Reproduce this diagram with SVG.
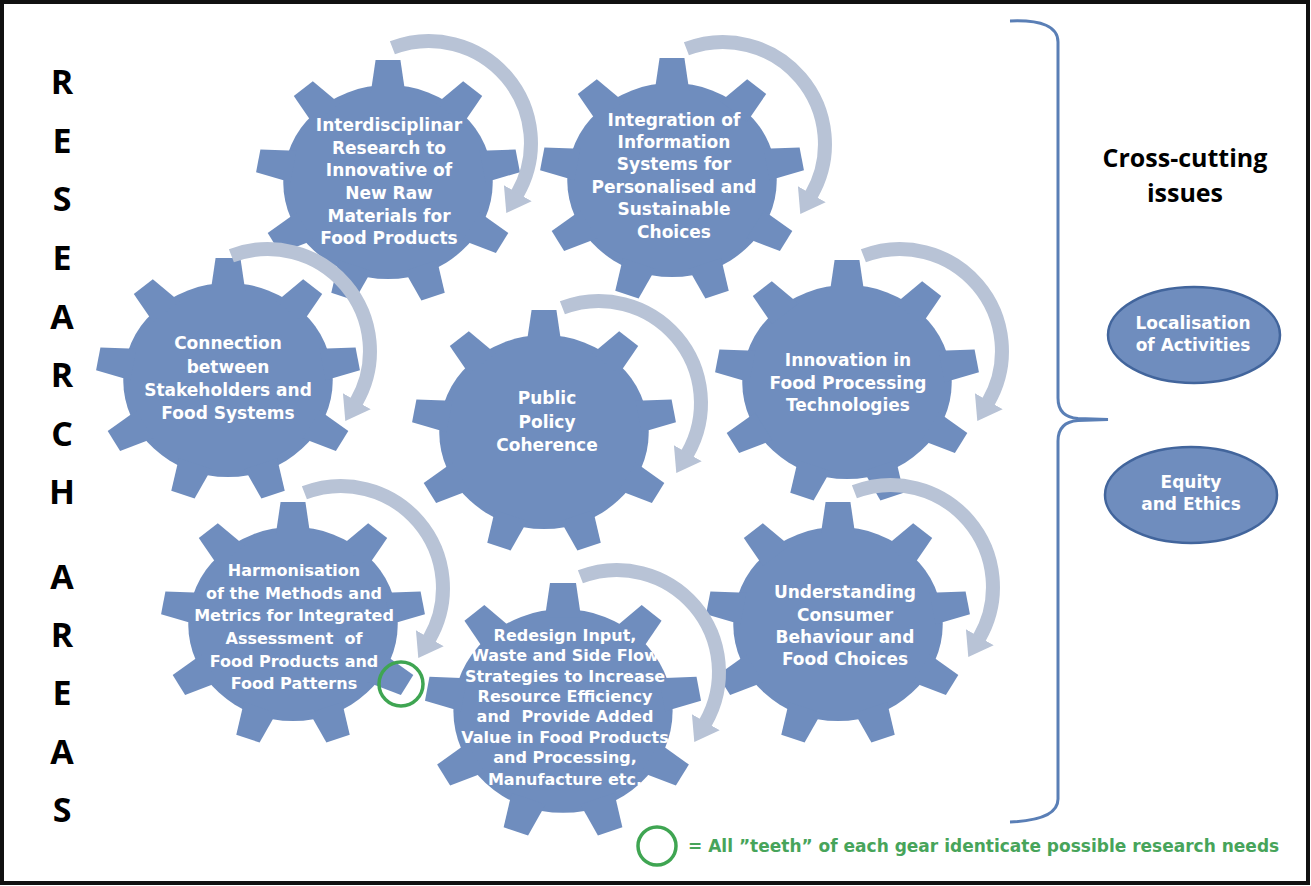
<svg xmlns="http://www.w3.org/2000/svg" xmlns:xlink="http://www.w3.org/1999/xlink" width="1311" height="886" viewBox="0 0 1311 886">
  <style>
    .gear { fill: #6f8dbe; }
    .gt { font-family: "DejaVu Sans", "Liberation Sans", sans-serif; font-weight: bold; font-size: 17px; fill: #ffffff; text-anchor: middle; }
    .gt16 { font-size: 16px; }
    .side { font-family: "Open Sans", "Liberation Sans", sans-serif; font-weight: bold; font-size: 34px; fill: #000000; text-anchor: middle; }
    .head { font-family: "Open Sans", "Liberation Sans", sans-serif; font-weight: bold; font-size: 25px; fill: #000000; text-anchor: middle; }
    .arc { fill: none; stroke: #b8c3d6; stroke-width: 14; marker-end: url(#head); }
    .oval { fill: #6f8dbe; stroke: #42659c; stroke-width: 2.5; }
    .legend { font-family: "DejaVu Sans", "Liberation Sans", sans-serif; font-weight: bold; font-size: 17px; fill: #47a45a; }
    .ring { fill: none; stroke: #3fa552; stroke-width: 3.5; }
  </style>
  <defs>
    <!-- nine-tooth gear centred on the origin -->
    <g id="gear">
      <circle r="97"/>
      <polygon id="tooth" points="-16,-89 -11.5,-122 11.5,-122 16,-89"/>
      <use xlink:href="#tooth" href="#tooth" transform="rotate(40)"/>
      <use xlink:href="#tooth" href="#tooth" transform="rotate(80)"/>
      <use xlink:href="#tooth" href="#tooth" transform="rotate(120)"/>
      <use xlink:href="#tooth" href="#tooth" transform="rotate(160)"/>
      <use xlink:href="#tooth" href="#tooth" transform="rotate(200)"/>
      <use xlink:href="#tooth" href="#tooth" transform="rotate(240)"/>
      <use xlink:href="#tooth" href="#tooth" transform="rotate(280)"/>
      <use xlink:href="#tooth" href="#tooth" transform="rotate(320)"/>
    </g>
    <marker id="head" markerUnits="userSpaceOnUse" viewBox="0 0 24 36" markerWidth="24" markerHeight="36" refX="1" refY="18" orient="auto">
      <path d="M0,2 L23,18 L0,34 z" fill="#b8c3d6"/>
    </marker>
  </defs>

  <rect x="0" y="0" width="1311" height="886" fill="#ffffff"/>
  <rect x="2" y="2" width="1306" height="881" fill="none" stroke="#111111" stroke-width="4"/>

  <!-- vertical title -->
  <g id="research-areas">
    <text class="side" x="62" y="94">R</text>
    <text class="side" x="62" y="153">E</text>
    <text class="side" x="62" y="211">S</text>
    <text class="side" x="62" y="270">E</text>
    <text class="side" x="62" y="329">A</text>
    <text class="side" x="62" y="387">R</text>
    <text class="side" x="62" y="446">C</text>
    <text class="side" x="62" y="504">H</text>
    <text class="side" x="62" y="589">A</text>
    <text class="side" x="62" y="647">R</text>
    <text class="side" x="62" y="705">E</text>
    <text class="side" x="62" y="764">A</text>
    <text class="side" x="62" y="822">S</text>
  </g>

  <!-- gears -->
  <g id="gear-interdisciplinar">
    <use class="gear" xlink:href="#gear" href="#gear" transform="translate(388 182) scale(1.08 1)"/>
    <text class="gt" x="389" y="131">Interdisciplinar</text>
    <text class="gt" x="389" y="154">Research to</text>
    <text class="gt" x="389" y="176">Innovative of</text>
    <text class="gt" x="389" y="199">New Raw</text>
    <text class="gt" x="389" y="222">Materials for</text>
    <text class="gt" x="389" y="244">Food Products</text>
  </g>
  <g id="gear-integration">
    <use class="gear" xlink:href="#gear" href="#gear" transform="translate(672 180) scale(1.08 1)"/>
    <text class="gt" x="674" y="126">Integration of</text>
    <text class="gt" x="674" y="148">Information</text>
    <text class="gt" x="674" y="170">Systems for</text>
    <text class="gt" x="674" y="193">Personalised and</text>
    <text class="gt" x="674" y="215">Sustainable</text>
    <text class="gt" x="674" y="238">Choices</text>
  </g>
  <g id="gear-connection">
    <use class="gear" xlink:href="#gear" href="#gear" transform="translate(228 380) scale(1.08 1)"/>
    <text class="gt" x="228" y="349">Connection</text>
    <text class="gt" x="228" y="373">between</text>
    <text class="gt" x="228" y="396">Stakeholders and</text>
    <text class="gt" x="228" y="419">Food Systems</text>
  </g>
  <g id="gear-policy">
    <use class="gear" xlink:href="#gear" href="#gear" transform="translate(544 432) scale(1.08 1)"/>
    <text class="gt" x="547" y="404">Public</text>
    <text class="gt" x="547" y="428">Policy</text>
    <text class="gt" x="547" y="451">Coherence</text>
  </g>
  <g id="gear-processing">
    <use class="gear" xlink:href="#gear" href="#gear" transform="translate(847 382) scale(1.08 1)"/>
    <text class="gt" x="848" y="366">Innovation in</text>
    <text class="gt" x="848" y="389">Food Processing</text>
    <text class="gt" x="848" y="411">Technologies</text>
  </g>
  <g id="gear-harmonisation">
    <use class="gear" xlink:href="#gear" href="#gear" transform="translate(293 624) scale(1.08 1)"/>
    <text class="gt gt16" x="294" y="576">Harmonisation</text>
    <text class="gt gt16" x="294" y="599">of the Methods and</text>
    <text class="gt gt16" x="294" y="621">Metrics for Integrated</text>
    <text class="gt gt16" x="294" y="644" xml:space="preserve">Assessment  of</text>
    <text class="gt gt16" x="294" y="667">Food Products and</text>
    <text class="gt gt16" x="294" y="689">Food Patterns</text>
  </g>
  <g id="gear-redesign">
    <use class="gear" xlink:href="#gear" href="#gear" transform="translate(563 711) scale(1.13 1.05)"/>
    <text class="gt gt16" x="565" y="641">Redesign Input,</text>
    <text class="gt gt16" x="565" y="661">Waste and Side Flow</text>
    <text class="gt gt16" x="565" y="682">Strategies to Increase</text>
    <text class="gt gt16" x="565" y="702">Resource Efficiency</text>
    <text class="gt gt16" x="565" y="722" xml:space="preserve">and  Provide Added</text>
    <text class="gt gt16" x="565" y="743">Value in Food Products</text>
    <text class="gt gt16" x="565" y="763">and Processing,</text>
    <text class="gt gt16" x="565" y="785">Manufacture etc.</text>
  </g>
  <g id="gear-consumer">
    <use class="gear" xlink:href="#gear" href="#gear" transform="translate(838 624) scale(1.08 1)"/>
    <text class="gt" x="845" y="598">Understanding</text>
    <text class="gt" x="845" y="621">Consumer</text>
    <text class="gt" x="845" y="643">Behaviour and</text>
    <text class="gt" x="845" y="665">Food Choices</text>
  </g>

  <!-- rotation arrows, one per gear -->
  <g id="connectors">
    <path class="arc" d="M392.4,47.8 A102,102 0 0 1 517.3,194"/>
    <path class="arc" d="M686.4,48.8 A102,102 0 0 1 811.3,195"/>
    <path class="arc" d="M231.4,255.8 A102,102 0 0 1 356.3,402"/>
    <path class="arc" d="M562.4,307.8 A102,102 0 0 1 687.3,454"/>
    <path class="arc" d="M863.4,255.8 A102,102 0 0 1 988.3,402"/>
    <path class="arc" d="M304.4,492.8 A102,102 0 0 1 429.3,639"/>
    <path class="arc" d="M580.4,576.8 A102,102 0 0 1 705.3,723"/>
    <path class="arc" d="M854.4,491.8 A102,102 0 0 1 979.3,638"/>
  </g>

  <!-- marked tooth -->
  <circle id="tooth-mark" class="ring" cx="401" cy="684" r="22" stroke-width="4"/>

  <!-- brace and cross-cutting issues -->
  <path id="brace" d="M1010,21 Q1058,19 1058,42 L1058,398 Q1058,417 1078,418.5 L1108,419.5 L1078,420.5 Q1058,422 1058,441 L1058,799 Q1058,820 1010,822" fill="none" stroke="#5a7fb6" stroke-width="3"/>
  <g id="cross-cutting">
    <text class="head" x="1185" y="167">Cross-cutting</text>
    <text class="head" x="1185" y="202">issues</text>
  </g>
  <g id="localisation">
    <ellipse class="oval" cx="1194" cy="335" rx="86" ry="48"/>
    <text class="gt" x="1193" y="329">Localisation</text>
    <text class="gt" x="1193" y="351">of Activities</text>
  </g>
  <g id="equity">
    <ellipse class="oval" cx="1191" cy="495" rx="86" ry="48"/>
    <text class="gt" x="1191" y="488">Equity</text>
    <text class="gt" x="1191" y="510">and Ethics</text>
  </g>

  <!-- legend -->
  <g id="legend">
    <circle class="ring" cx="657" cy="846" r="19"/>
    <text class="legend" x="688" y="852">= All ”teeth” of each gear identicate possible research needs</text>
  </g>
</svg>
